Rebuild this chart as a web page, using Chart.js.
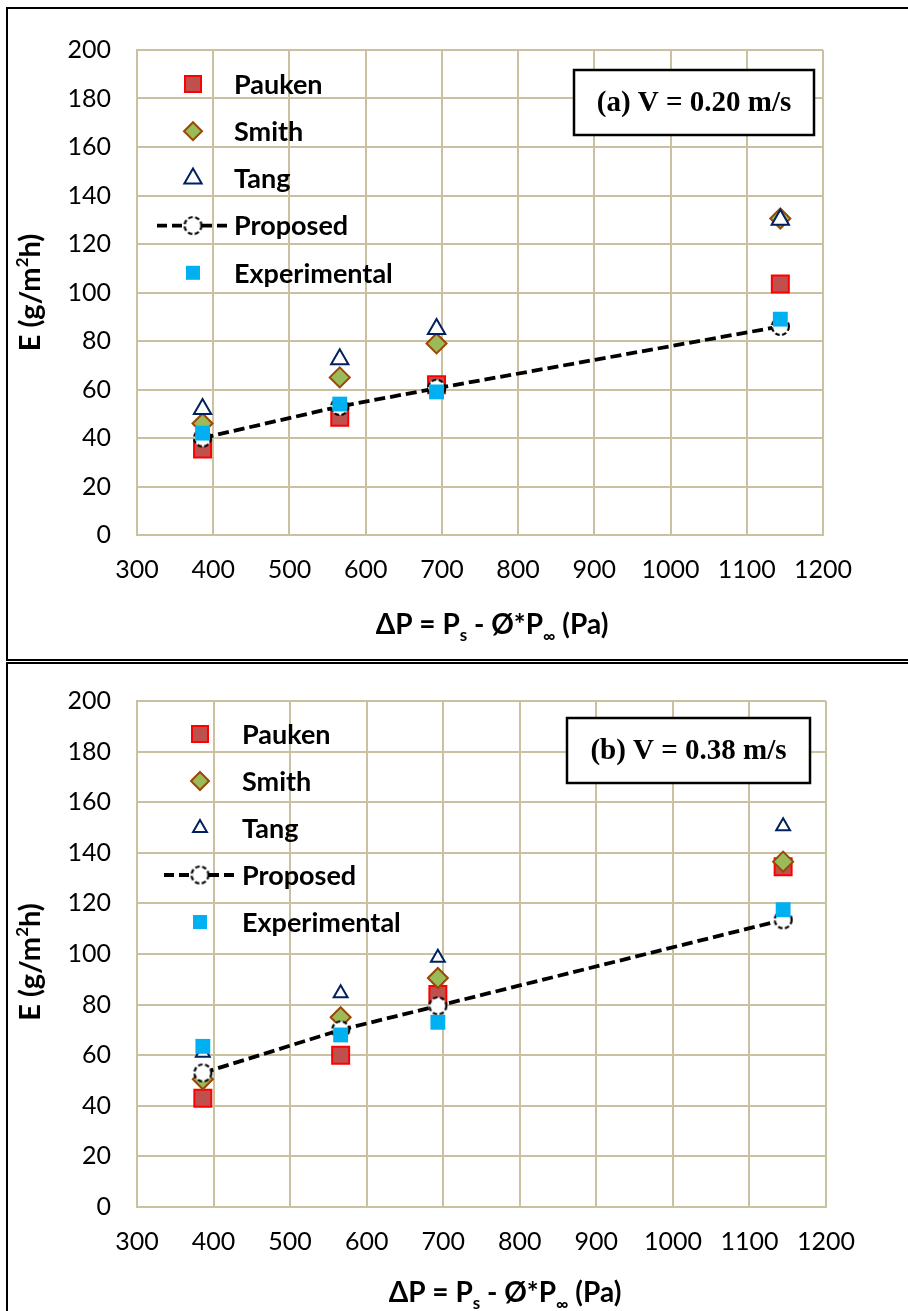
<!DOCTYPE html>
<html>
<head>
<meta charset="utf-8">
<script src="https://cdn.jsdelivr.net/npm/chart.js@4.4.0/dist/chart.umd.min.js"></script>
<style>
html,body{margin:0;padding:0;background:#fff;overflow:hidden;}
#wrap{position:relative;width:908px;height:1311px;overflow:hidden;}
canvas{position:absolute;left:0;}
.frame{position:absolute;border:2px solid #000;box-sizing:border-box;}
</style>
</head>
<body>
<div id="wrap">
  <div class="frame" style="left:6px;top:7px;width:940px;height:654px"></div>
  <div class="frame" style="left:6px;top:662px;width:940px;height:700px"></div>
  <canvas id="chartA" width="908" height="660" style="top:0"></canvas>
  <canvas id="chartB" width="908" height="651" style="top:660px"></canvas>
</div>
<script>
// x values (Pa), shared by both panels
const deltaP = [386, 566, 693, 1144];

// (a) V = 0.20 m/s
const paukenA = [35.5, 48.5, 62, 103.5];
const smithA = [46, 65, 79, 130.5];
const tangA = [52, 72.5, 85, 130];
const proposedA = [40, 53, 60.5, 86];
const experimentalA = [42, 54, 59, 89];

// (b) V = 0.38 m/s
const paukenB = [43, 60, 84, 134.5];
const smithB = [50.5, 75, 90.5, 136.5];
const tangB = [61, 84.5, 98.5, 150.5];
const proposedB = [53, 70, 79.5, 113.5];
const experimentalB = [63.5, 68, 73, 117.5];

const seriesNames = ['Pauken', 'Smith', 'Tang', 'Proposed', 'Experimental'];
const xTicks = { min: 300, max: 1200, step: 100 };
const yTicks = { min: 0, max: 200, step: 20 };

const FONT = 'Lato, "DejaVu Sans", sans-serif';
const GRID = '#C9C1A0';

function dashedCircle(r) {
  const c = document.createElement('canvas');
  c.width = c.height = 2 * r + 4;
  const g = c.getContext('2d');
  g.beginPath();
  g.arc(r + 2, r + 2, r, 0, Math.PI * 2);
  g.fillStyle = '#fff';
  g.fill();
  g.setLineDash([4.5, 2.5]);
  g.lineWidth = 2.2;
  g.strokeStyle = '#000';
  g.stroke();
  return c;
}
const circleImg = dashedCircle(8.5);

function pts(vals) {
  return deltaP.map((x, i) => ({ x: x, y: vals[i] }));
}

// draws text runs (normal / sub / sup) centred on x
function drawRuns(ctx, runs, x, y) {
  let total = 0;
  runs.forEach(r => { ctx.font = r.font; total += ctx.measureText(r.t).width; });
  let cx = x - total / 2;
  ctx.textAlign = 'left';
  ctx.textBaseline = 'alphabetic';
  runs.forEach(r => {
    ctx.font = r.font;
    ctx.fillText(r.t, cx, y + (r.dy || 0));
    cx += ctx.measureText(r.t).width;
  });
}

const panelDecor = {
  id: 'panelDecor',
  afterDraw(chart, args, o) {
    const ctx = chart.ctx;
    const a = chart.chartArea;
    ctx.save();
    ctx.fillStyle = '#000';

    // legend
    const mx = a.left + o.legDx;
    const tx = a.left + o.textDx;
    seriesNames.forEach((name, i) => {
      const y = a.top + o.legDy + i * o.rowGap;
      ctx.setLineDash([]);
      if (i === 0) {
        ctx.fillStyle = '#C0504D';
        ctx.fillRect(mx - 8, y - 8, 16, 16);
        ctx.strokeStyle = '#FF0000';
        ctx.lineWidth = 2;
        ctx.strokeRect(mx - 8, y - 8, 16, 16);
      } else if (i === 1) {
        ctx.beginPath();
        ctx.moveTo(mx, y - 9); ctx.lineTo(mx + 9, y); ctx.lineTo(mx, y + 9); ctx.lineTo(mx - 9, y); ctx.closePath();
        ctx.fillStyle = '#9BBB59'; ctx.fill();
        ctx.strokeStyle = '#984807'; ctx.lineWidth = 2; ctx.stroke();
      } else if (i === 2) {
        const r = o.triR;
        ctx.beginPath();
        ctx.moveTo(mx, y - r); ctx.lineTo(mx + r * 0.866, y + r / 2); ctx.lineTo(mx - r * 0.866, y + r / 2); ctx.closePath();
        ctx.fillStyle = '#fff'; ctx.fill();
        ctx.strokeStyle = '#002060'; ctx.lineWidth = 2; ctx.stroke();
      } else if (i === 3) {
        ctx.beginPath();
        ctx.moveTo(mx - 36, y); ctx.lineTo(mx + 36, y);
        ctx.setLineDash([10, 5]);
        ctx.strokeStyle = '#000'; ctx.lineWidth = 3.8; ctx.stroke();
        ctx.setLineDash([]);
        ctx.drawImage(circleImg, mx - circleImg.width / 2, y - circleImg.height / 2);
      } else {
        ctx.fillStyle = '#00B0F0';
        ctx.fillRect(mx - 7, y - 7, 14, 14);
      }
      ctx.fillStyle = '#000';
      ctx.font = 'bold 27px ' + FONT;
      ctx.textAlign = 'left';
      ctx.textBaseline = 'middle';
      ctx.fillText(name, tx, y + 1);
    });

    // annotation box
    const bx = a.left + o.boxDx, by = a.top + o.boxDy;
    ctx.fillStyle = '#fff';
    ctx.fillRect(bx, by, o.boxW, o.boxH);
    ctx.strokeStyle = '#000';
    ctx.lineWidth = 2.5;
    ctx.strokeRect(bx, by, o.boxW, o.boxH);
    ctx.fillStyle = '#000';
    ctx.font = 'bold 29px "Liberation Serif", serif';
    ctx.textAlign = 'center';
    ctx.textBaseline = 'middle';
    ctx.fillText(o.boxText, bx + o.boxW / 2, by + o.boxH / 2 + 1);

    // x axis title
    const big = 'bold 28px ' + FONT, small = 'bold 17px ' + FONT;
    drawRuns(ctx, [
      { t: '\u0394P = P', font: big },
      { t: 's', font: small, dy: 7 },
      { t: ' - \u00D8*P', font: big },
      { t: '\u221E', font: small, dy: 8 },
      { t: ' (Pa)', font: big }
    ], o.xTitleX, a.bottom + o.xTitleDy);

    // y axis title
    const yBig = 'bold 29px ' + FONT;
    ctx.translate(o.yTitleX, (a.top + a.bottom) / 2 + o.yTitleDy);
    ctx.rotate(-Math.PI / 2);
    drawRuns(ctx, [
      { t: 'E (g/m', font: yBig },
      { t: '2', font: small, dy: -12 },
      { t: 'h)', font: yBig }
    ], 0, 10);
    ctx.restore();
  }
};

function makeChart(id, d, lay) {
  const tickFont = { family: FONT, size: 25 };
  return new Chart(document.getElementById(id), {
    type: 'scatter',
    data: {
      datasets: [
        { label: 'Pauken', data: pts(d.pauken), order: 4, pointStyle: 'rect', pointRadius: 12, pointHoverRadius: 12,
          pointBackgroundColor: '#C0504D', pointBorderColor: '#FF0000', pointBorderWidth: 2 },
        { label: 'Smith', data: pts(d.smith), order: 3, pointStyle: 'rectRot', pointRadius: 10, pointHoverRadius: 10,
          pointBackgroundColor: '#9BBB59', pointBorderColor: '#984807', pointBorderWidth: 2 },
        { label: 'Tang', data: pts(d.tang), order: 2, pointStyle: 'triangle', pointRadius: lay.triR, pointHoverRadius: lay.triR,
          pointBackgroundColor: '#fff', pointBorderColor: '#002060', pointBorderWidth: 2 },
        { label: 'Proposed', data: pts(d.proposed), order: 1, showLine: true, borderColor: '#000', borderWidth: 3.8,
          borderDash: [11, 5], fill: false, tension: 0, pointStyle: circleImg, pointRadius: 9, pointHoverRadius: 9 },
        { label: 'Experimental', data: pts(d.experimental), order: 0, pointStyle: 'rect', pointRadius: 10.5, pointHoverRadius: 10.5,
          pointBackgroundColor: '#00B0F0', pointBorderWidth: 0 }
      ]
    },
    options: {
      responsive: false,
      animation: false,
      layout: { padding: { left: 0, right: lay.padRight, top: lay.padTop, bottom: 0 } },
      plugins: {
        legend: { display: false },
        tooltip: { enabled: false },
        panelDecor: lay
      },
      scales: {
        x: {
          type: 'linear', min: xTicks.min, max: xTicks.max,
          afterFit(s) { s.height = lay.xAxisH; },
          ticks: { stepSize: xTicks.step, font: tickFont, color: '#000', padding: 20, autoSkip: false, maxRotation: 0,
                   callback: v => String(v) },
          grid: { color: GRID, lineWidth: 2, drawTicks: false },
          border: { color: GRID, width: 2 }
        },
        y: {
          min: yTicks.min, max: yTicks.max,
          afterFit(s) { s.width = 137; },
          ticks: { stepSize: yTicks.step, font: tickFont, color: '#000', padding: 26, callback: v => String(v) },
          grid: { color: GRID, lineWidth: 2, drawTicks: false },
          border: { color: GRID, width: 2 }
        }
      }
    },
    plugins: [panelDecor]
  });
}

makeChart('chartA',
  { pauken: paukenA, smith: smithA, tang: tangA, proposed: proposedA, experimental: experimentalA },
  { padTop: 50, padRight: 85, xAxisH: 125, triR: 10,
    legDx: 56, textDx: 97, legDy: 34, rowGap: 47.2,
    boxDx: 437, boxDy: 20, boxW: 240, boxH: 65, boxText: '(a) V = 0.20 m/s',
    xTitleX: 492, xTitleDy: 99, yTitleX: 30, yTitleDy: 0 });

makeChart('chartB',
  { pauken: paukenB, smith: smithB, tang: tangB, proposed: proposedB, experimental: experimentalB },
  { padTop: 37, padRight: 82, xAxisH: 104, triR: 8,
    legDx: 63, textDx: 105, legDy: 33, rowGap: 47,
    boxDx: 430, boxDy: 17, boxW: 243, boxH: 65, boxText: '(b) V = 0.38 m/s',
    xTitleX: 505, xTitleDy: 95, yTitleX: 30, yTitleDy: 8 });
</script>
</body>
</html>
